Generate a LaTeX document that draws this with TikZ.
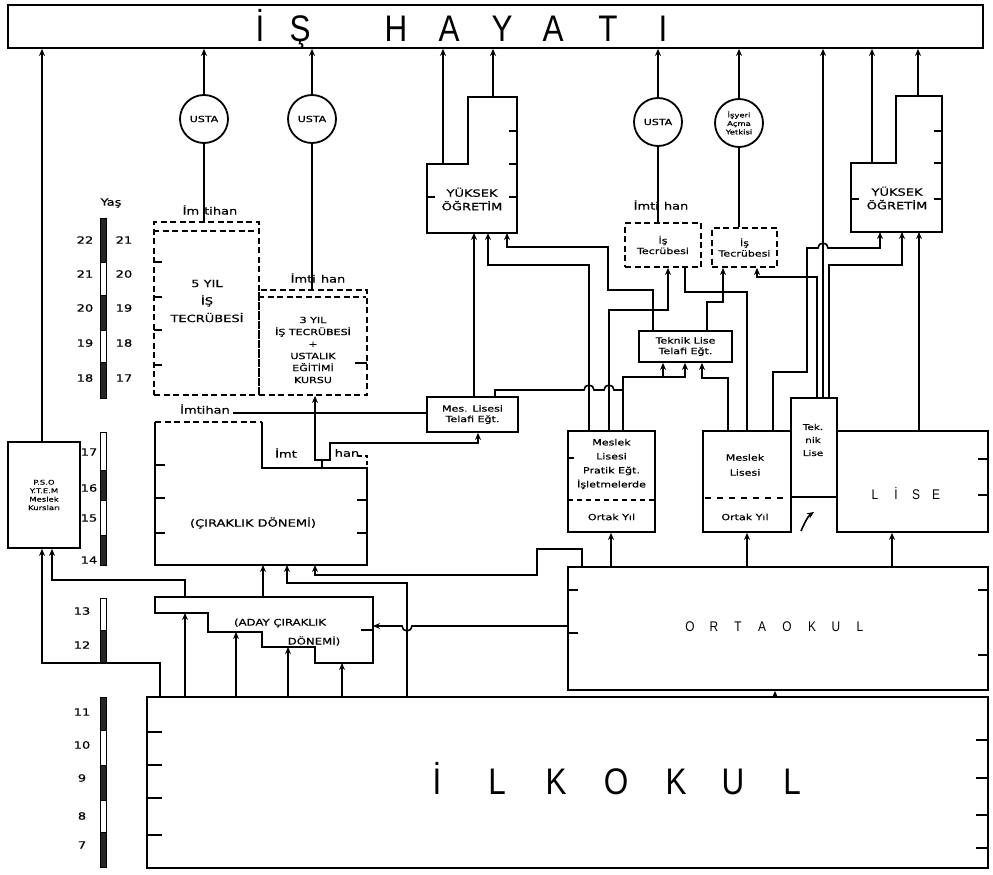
\documentclass[tikz,border=0pt]{standalone}
\usepackage{fontspec}
\setmainfont{DejaVu Sans}
\newfontfamily\scanfont{DejaVu Sans}[FakeStretch=1.3, FakeBold=0.6]
\newfontfamily\bigfont{Liberation Sans}[FakeStretch=0.85]
\usetikzlibrary{arrows.meta}

\tikzset{
  outline/.style={draw, line width=1.8pt},
  box/.style={outline, inner sep=0pt, align=center},
  dbox/.style={box, dash pattern=on 6pt off 3.5pt},
  lbl/.style={font=\scanfont\fontsize{10}{13.5}\selectfont, inner sep=0pt, align=center},
  midtxt/.style={font=\scanfont\fontsize{8.5}{10.5}\selectfont, inner sep=0pt, align=center},
  smalltxt/.style={font=\scanfont\fontsize{6.5}{8.5}\selectfont, inner sep=0pt, align=center},
  bigletter/.style={font=\bigfont\fontsize{37}{37}\selectfont, inner sep=0pt, anchor=base},
  medletter/.style={font=\bigfont\fontsize{14}{14}\selectfont, inner sep=0pt, anchor=base},
  ln/.style={line width=1.6pt},
  arr/.style={ln, -{Stealth[length=7pt,width=6pt]}},
  agebar/.style={draw, line width=0.9pt},
}

\begin{document}
\begin{tikzpicture}[x=1pt,y=-1pt]
\useasboundingbox (0,0) rectangle (993,875);

% work life bar
\node[box, minimum width=975pt, minimum height=43pt] (hayat) at (495.5,26.5) {};
\foreach \c/\x in {İ/260,Ş/300,H/396,A/449,Y/502,A/553,T/608,I/663}
  \node[bigletter] at (\x,42) {\c};

% masters and licence circles
\node[box, circle, minimum size=48pt, midtxt] (usta1) at (204,119) {USTA};
\node[box, circle, minimum size=48pt, midtxt] (usta2) at (312,119) {USTA};
\node[box, circle, minimum size=48pt, midtxt] (usta3) at (658,122) {USTA};
\node[box, circle, minimum size=48pt, smalltxt] (isyeri) at (739,123) {İşyeri\\Açma\\Yetkisi};

% left column
\node[box, minimum width=72pt, minimum height=106pt, smalltxt] (pso) at (44,495) {P.S.O\\Y.T.E.M\\Meslek\\Kursları};

% work experience boxes
\node[dbox, minimum width=105pt, minimum height=173pt] (yil5) at (206.5,308.5) {};
\draw[ln, dash pattern=on 6pt off 3.5pt] (yil5.north west) ++(0,10) -- ++(105,0);
\node[lbl] (yil5t) at (207,301) {5 YIL\\[4pt]İŞ\\[4pt]TECRÜBESİ};
\node[dbox, minimum width=108pt, minimum height=105pt] (yil3) at (313,342.5) {};
\draw[ln, dash pattern=on 6pt off 3.5pt] (yil3.north west) ++(0,8) -- ++(108,0);
\node[lbl, font=\scanfont\fontsize{8.5}{12}\selectfont] (yil3t) at (313,350) {3 YIL\\İŞ TECRÜBESİ\\+\\USTALIK\\EĞİTİMİ\\KURSU};
\node[lbl] (imt1) at (210,210) {İm\hspace{5pt}tihan};
\node[lbl] (imt2) at (318,278) {İmti\hspace{5pt}han};
\node[lbl] (imt3) at (661,205) {İmti\hspace{5pt}han};
\node[lbl] (imt4) at (205,409) {İmtihan};
\coordinate (imtend) at ([xshift=3pt]imt4.east);

% apprenticeship
\draw[ln, dash pattern=on 6pt off 3.5pt] (155,422) -- (262,422);
\draw[outline] (262,422) -- (262,468) -- (367,468) -- (367,565) -- (155,565) -- (155,422);
\node[lbl] (cirak) at (253,523) {(ÇIRAKLIK DÖNEMİ)};
\node[lbl] (imt5a) at (286,453) {İmt};
\node[lbl] (imt5b) at (347,453) {han};
\draw[ln, dash pattern=on 4pt off 3pt] (358,456) -- (367,456) -- (367,468);
\coordinate (cirakb) at (155,565);

% candidate apprenticeship
\draw[outline] (155,597) -- (373,597) -- (373,663) -- (315,663) -- (315,647) -- (262,647)
  -- (262,632) -- (208,632) -- (208,613) -- (155,613) -- cycle;
\node[lbl, font=\scanfont\fontsize{9}{11}\selectfont] (aday1) at (280,623) {(ADAY ÇIRAKLIK};
\node[lbl, font=\scanfont\fontsize{9}{11}\selectfont] (aday2) at (314,641) {DÖNEMİ)};
\coordinate (adaytop) at (155,597);
\coordinate (adayr) at (373,626);

% higher education
\draw[outline] (427,164) -- (468,164) -- (468,97) -- (517,97) -- (517,233) -- (427,233) -- cycle;
\node[lbl] (y1) at (472,199) {YÜKSEK\\ÖĞRETİM};
\coordinate (y1lo) at (427,164);
\coordinate (y1hi) at (468,97);
\coordinate (y1bot) at (427,233);
\draw[outline] (851,163) -- (896,163) -- (896,96) -- (942,96) -- (942,232) -- (851,232) -- cycle;
\node[lbl] (y2) at (897,198) {YÜKSEK\\ÖĞRETİM};
\coordinate (y2lo) at (851,163);
\coordinate (y2hi) at (896,96);
\coordinate (y2bot) at (851,232);

% make-up courses and experience
\node[box, minimum width=91pt, minimum height=35pt, midtxt] (mt) at (472.5,414.5) {Mes. Lisesi\\Telafi Eğt.};
\node[box, minimum width=93pt, minimum height=31pt, midtxt] (tlt) at (685.5,346.5) {Teknik Lise\\Telafi Eğt.};
\node[dbox, minimum width=76pt, minimum height=44pt, midtxt] (istec1) at (663,245) {İş\\Tecrübesi};
\node[dbox, minimum width=65pt, minimum height=39pt, midtxt] (istec2) at (744.5,247.5) {İş\\Tecrübesi};

% high schools
\node[box, minimum width=87pt, minimum height=101pt] (mlp) at (611.5,481.5) {};
\node[midtxt, font=\scanfont\fontsize{8.5}{14}\selectfont] (mlpt) at (611.5,464) {Meslek\\Lisesi\\Pratik Eğt.\\İşletmelerde};
\node[midtxt] (mlpo) at (611.5,517) {Ortak Yıl};
\draw[ln, dash pattern=on 5pt off 4pt] (568,500) -- (655,500);
\node[box, minimum width=88pt, minimum height=101pt] (ml) at (747,481.5) {};
\node[midtxt, font=\scanfont\fontsize{8.5}{15}\selectfont] (mlt) at (745,465) {Meslek\\Lisesi};
\node[midtxt] (mlo) at (745,517) {Ortak Yıl};
\draw[ln, dash pattern=on 6pt off 6pt] (705,498) -- (785,498);
\node[box, minimum width=46pt, minimum height=99pt] (tl) at (814,447.5) {};
\node[midtxt, font=\scanfont\fontsize{8}{13}\selectfont] (tlt2) at (813,440) {Tek.\\nik\\Lise};
\node[box, minimum width=151pt, minimum height=101pt] (lise) at (912.5,481.5) {};
\foreach \c/\x in {L/875,İ/896,S/916,E/936}
  \node[medletter] at (\x,499) {\c};

% middle and primary school
\node[box, minimum width=420pt, minimum height=123pt] (orta) at (778,628.5) {};
\foreach \c/\x in {O/690,R/714,T/738,A/762,O/787,K/812,U/836,L/860}
  \node[medletter] at (\x,631) {\c};
\node[box, minimum width=841pt, minimum height=171pt] (ilk) at (567.5,782.5) {};
\foreach \c/\x in {İ/437,L/497,K/556,O/616,K/676,U/733,L/792}
  \node[bigletter] at (\x,794) {\c};

% year ticks
\foreach \y in {262,297,330,365} \draw[ln] (154,\y) -- ++(8,0);
\draw[ln] (367,363) -- ++(-12,0);
\foreach \y in {131,164,197} \draw[ln] (517,\y) -- ++(-8,0);
\draw[ln] (427,197) -- ++(8,0);
\foreach \y in {131,163,199} \draw[ln] (942,\y) -- ++(-8,0);
\draw[ln] (851,199) -- ++(8,0);
\foreach \y in {465,498,533} \draw[ln] (155,\y) -- ++(10,0);
\foreach \y in {500,533} \draw[ln] (367,\y) -- ++(-10,0);
\draw[ln] (373,630) -- ++(-12,0);
\foreach \y in {590,633} \draw[ln] (568,\y) -- ++(10,0);
\foreach \y in {590,655} \draw[ln] (988,\y) -- ++(-10,0);
\foreach \y in {732,765,798,835} \draw[ln] (147,\y) -- ++(15,0);
\foreach \y in {740,778,815,848} \draw[ln] (988,\y) -- ++(-12,0);
\foreach \y in {459,495} \draw[ln] (988,\y) -- ++(-10,0);
\draw[ln] (568,458) -- ++(6,0);

% age scale
\node[lbl] (yas) at (111,203) {Yaş};
\foreach \a/\b/\f in {218/262/black!85,262/295/white,295/330/black!85,330/362/white,362/398/black!85,
  432/470/white,470/500/black!85,500/535/white,535/565/black!85,598/630/white,630/663/black!85,
  697/730/black!85,730/765/white,765/800/black!85,800/832/white,832/867/black!85}
  \draw[agebar, fill=\f] (100,\a) rectangle (106,\b);
\foreach \l/\r/\y in {22/21/240,21/20/274,20/19/308,19/18/343,18/17/378}
  { \node[lbl] at (85,\y) {\l}; \node[lbl] at (124,\y) {\r}; }
\foreach \n/\y in {17/452,16/488,15/518,14/560} \node[lbl] at (89,\y) {\n};
\foreach \n/\y in {13/611,12/645,11/712,10/745,9/778,8/816,7/845} \node[lbl] at (82,\y) {\n};

% into work life
\draw[arr] (pso.north -| 42,0) -- (42,0 |- hayat.south);
\foreach \n in {usta1,usta2,usta3,isyeri} \draw[arr] (\n) -- (\n |- hayat.south);
\draw[arr] (443,0 |- y1lo) -- (443,0 |- hayat.south);
\draw[arr] (493,0 |- y1hi) -- (493,0 |- hayat.south);
\draw[arr] (872,0 |- y2lo) -- (872,0 |- hayat.south);
\draw[arr] (918,0 |- y2hi) -- (918,0 |- hayat.south);
\draw[arr] (823,0 |- tl.north) -- (823,0 |- hayat.south);

% exams
\draw[ln] (usta1) -- (usta1 |- yil5.north);
\draw[ln] (usta2) -- (usta2 |- yil3.north);
\draw[ln] (usta3) -- (usta3 |- istec1.north);
\draw[ln] (isyeri) -- (isyeri |- istec2.north);

% apprenticeship onwards
\coordinate (notch) at (322,460);
\draw[ln] (322,468) -- (notch);
\draw[arr] (notch) -| (315,0 |- yil3.south);
\draw[arr] (notch) -| (330,443) -| (478,0 |- mt.south);
\draw[ln] (imtend |- 0,413) -- (mt.west |- 0,413);
\draw[arr] (263,0 |- adaytop) -- (263,0 |- cirakb);

% from primary school
\foreach \x/\y in {185/613,236/632,288/647,342/663} \draw[arr] (\x,0 |- ilk.north) -- (\x,\y);
\draw[arr] (407,0 |- ilk.north) |- (287,583) -- (287,0 |- cirakb);
\draw[arr] (160,0 |- ilk.north) |- (42,663) -- (42,0 |- pso.south);
\draw[arr] (185,0 |- adaytop) |- (52,580) -- (52,0 |- pso.south);
\draw[arr] (775,0 |- ilk.north) -- (775,0 |- orta.south);

% from middle school
\draw[arr] (582,0 |- orta.north) |- (537,549) |- (315,575) -- (315,0 |- cirakb);
\draw[arr] (orta.west |- adayr) -- (412,0 |- adayr) arc[start angle=0,end angle=180,radius=5] -- (adayr);
\draw[arr] (611,0 |- orta.north) -- (611,0 |- mlp.south);
\draw[arr] (747,0 |- orta.north) -- (747,0 |- ml.south);
\draw[arr] (892,0 |- orta.north) -- (892,0 |- lise.south);
\draw[arr] (801,531) .. controls (805,522) and (808,516) .. (814,512);

% to higher education (left)
\draw[arr] (474,0 |- mt.north) -- (474,0 |- y1bot);
\draw[arr] (589,0 |- mlp.north) |- (488,265) -- (488,0 |- y1bot);
\draw[arr] (653,0 |- tlt.north) |- (608,290) |- (507,247) -- (507,0 |- y1bot);

% to work experience
\draw[arr] (609,0 |- mlp.north) |- (668,310) -- (668,0 |- istec1.south);
\draw[arr] (747,0 |- ml.north) |- (723,292) -- (723,0 |- istec2.south);
\draw[ln] (685,0 |- istec1.south) |- (723,292);
\draw[ln] (707,0 |- tlt.north) |- (723,302) -- (723,292);
\draw[arr] (817,0 |- tl.north) |- (757,277) -- (757,0 |- istec2.south);

% to technical make-up course
\draw[ln] (495,0 |- mt.north) |- (584,390) arc[start angle=180,end angle=360,radius=5]
  -- (604,390) arc[start angle=180,end angle=360,radius=5] -- (623,390);
\draw[arr] (623,0 |- mlp.north) |- (685,377) -- (685,0 |- tlt.south);
\draw[arr] (663,377) -- (663,0 |- tlt.south);
\draw[arr] (728,0 |- ml.north) |- (702,378) -- (702,0 |- tlt.south);

% to higher education (right)
\draw[arr] (773,0 |- ml.north) |- (807,372) |- (818,248) arc[start angle=180,end angle=360,radius=5]
  -| (880,0 |- y2bot);
\draw[arr] (829,0 |- tl.north) |- (902,265) -- (902,0 |- y2bot);
\draw[arr] (919,0 |- lise.north) -- (919,0 |- y2bot);
\end{tikzpicture}
\end{document}
